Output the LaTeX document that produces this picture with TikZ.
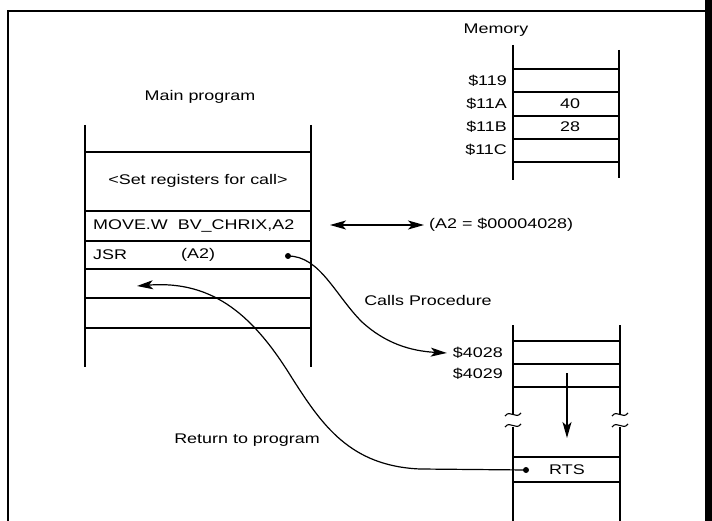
\documentclass[tikz,border=0pt]{standalone}
\usepackage{fontspec}
\setmainfont[FakeStretch=1.28]{Liberation Sans}
\usetikzlibrary{arrows.meta}
\begin{document}
\begin{tikzpicture}[x=1pt,y=-1pt,
  txt/.style={inner sep=0pt,font=\fontsize{14}{16}\selectfont},
  stk/.style={line width=1.3pt},
  conn/.style={line width=1.2pt,-{Stealth[length=16pt,width=9pt,inset=4pt]}},
  dotc/.style={circle,fill,inner sep=0pt,minimum size=6pt}]
\useasboundingbox (0,0) rectangle (712,521);
% frame
\draw[line width=1.4pt] (8,521) -- (8,11) -- (705,11);
\fill (705,0) rectangle (712,521);
% main program stack
\node[txt] (mp) at (200,97) {Main program};
\draw[stk] (85,125) -- (85,367) (311,125) -- (311,367);
\foreach \y in {152,211,241,269,298,328} \draw[stk] (85,\y) -- (311,\y);
\node[txt] (set) at (198,181) {<Set registers for call>};
\node[txt,anchor=west] (move) at (93,226) {MOVE.W\ \ BV\_CHRIX,A2};
\node[txt,anchor=west] (jsr) at (93,255) {JSR};
\node[txt,anchor=west] (a2) at (181,255) {(A2)};
\node[dotc] (d1) at (288,256) {};
\coordinate (ret) at (137,286);
% memory
\node[txt] (mem) at (496,30) {Memory};
\draw[stk] (513,45) -- (513,180) (619,50) -- (619,178);
\foreach \y in {69,92,116,139,162} \draw[stk] (513,\y) -- (619,\y);
\node[txt,anchor=east] (m1) at (507,81) {\$119};
\node[txt,anchor=east] (m2) at (507,104) {\$11A};
\node[txt,anchor=east] (m3) at (507,127) {\$11B};
\node[txt,anchor=east] (m4) at (507,150) {\$11C};
\node[txt] (v1) at (570,104) {40};
\node[txt] (v2) at (570,127) {28};
% double arrow and value
\coordinate (da) at (330,225);
\node[txt,anchor=west] (aval) at (429,225) {(A2 = \$00004028)};
\draw[line width=1.2pt,{Stealth[length=16pt,width=9pt,inset=4pt]}-{Stealth[length=16pt,width=9pt,inset=4pt]}] (da) -- ([xshift=-5pt]aval.west);
% procedure stack
\draw[stk] (513,325) -- (513,414) (513,427) -- (513,521)
           (620,325) -- (620,414) (620,427) -- (620,521);
\foreach \x in {513,620} {
  \draw[line width=1.1pt] (\x-8,416) .. controls (\x-3,409) and (\x+3,420) .. (\x+8,413);
  \draw[line width=1.1pt] (\x-8,427) .. controls (\x-3,420) and (\x+3,431) .. (\x+8,424);
}
\foreach \y in {341,364,387,457,482} \draw[stk] (513,\y) -- (620,\y);
\node[txt,anchor=east] (p1) at (503,353) {\$4028};
\node[txt,anchor=east] (p2) at (503,374) {\$4029};
\coordinate (dtop) at (567,373);
\coordinate (dbot) at (567,438);
\draw[line width=1.2pt,-{Stealth[length=16pt,width=9pt,inset=4pt]}] (dtop) -- (dbot);
\node[txt] (rts) at (567,470) {RTS};
\node[dotc] (d2) at (526,470) {};
% connectors
\node[txt] (calls) at (428,300) {Calls Procedure};
\node[txt] (retl) at (247,440) {Return to program};
\draw[conn] (d1.center) .. controls (320,256) and (335,295) .. (362,322)
   .. controls (385,343) and (410,351) .. ([xshift=-6pt]p1.west);
\draw[conn] (d2.center) -- (420,469) .. controls (350,466) and (322,425) .. (292,378)
   .. controls (255,318) and (215,280) .. (ret);
\end{tikzpicture}
\end{document}
